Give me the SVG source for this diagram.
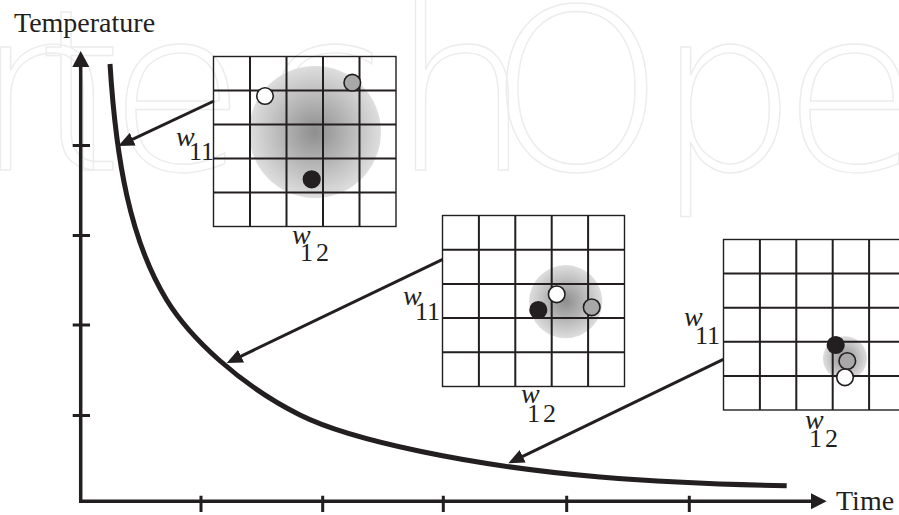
<svg xmlns="http://www.w3.org/2000/svg" width="899" height="515" viewBox="0 0 899 515">
<defs>
<style>
.wm{font-family:"DejaVu Sans",sans-serif;font-weight:200;font-size:225px;fill:none;stroke:#ececec;stroke-width:1.4}
.lbl{font-family:"Liberation Serif","Times New Roman",serif;fill:#231f20}
.w{font-style:italic;font-size:28px}
.sub{font-size:26px}
.ax{font-size:28px}
.gridO{fill:none;stroke:#231f20;stroke-width:1.4}
.gridI{fill:none;stroke:#231f20;stroke-width:2}
.axis{stroke:#231f20;stroke-width:3.5;fill:none}
.tick{stroke:#231f20;stroke-width:3;fill:none}
.conn{stroke:#231f20;stroke-width:3;fill:none;marker-end:url(#ah)}
.dot{stroke:#231f20;stroke-width:1.6}
.blk{fill:#231f20}
.wht{fill:#ffffff}
.gry{fill:#a8a8a8}
</style>
<radialGradient id="blob" cx="0.5" cy="0.5" r="0.5">
<stop offset="0" stop-color="#8e8e8e"/>
<stop offset="1" stop-color="#dedede"/>
</radialGradient>
<marker id="ah" viewBox="0 0 16 14" refX="8" refY="7" markerWidth="16" markerHeight="14" markerUnits="userSpaceOnUse" orient="auto">
<path d="M0,0 L16,7 L0,14 z" fill="#231f20"/>
</marker>
</defs>
<rect width="899" height="515" fill="#ffffff"/>
<text class="wm" y="170"><tspan x="-75">I</tspan><tspan x="-25">n</tspan><tspan x="35">t</tspan><tspan x="108">e</tspan><tspan x="262">c</tspan><tspan x="390">h</tspan><tspan x="488">O</tspan><tspan x="655">p</tspan><tspan x="782">e</tspan></text>

<g id="axes">
<path class="axis" d="M80.7,66 V501.3 H812"/>
<polygon points="80.7,51 72.3,67 89.3,67" fill="#231f20"/>
<polygon points="826.7,501.3 811,493.3 811,509.3" fill="#231f20"/>
<path class="tick" d="M72.7,145.5 H90 M72.7,235.5 H90 M72.7,325 H90 M72.7,415.5 H90 M201,495.7 V512 M322.7,495.7 V512 M443.3,495.7 V512 M566.7,495.7 V512 M689.3,495.7 V512"/>
<text class="lbl ax" x="14" y="31.7">Temperature</text>
<text class="lbl ax" x="836" y="510">Time</text>
</g>

<g id="curve">
<path d="M110,64 C116,160 130,240 166.7,300 C190,338 240,385 300,415 C350,440 470,466 600,477 C660,482 720,484.5 786.7,485.7" fill="none" stroke="#231f20" stroke-width="5"/>
</g>

<g id="grid1">
<circle cx="315" cy="132" r="66" fill="url(#blob)"/>
<path class="gridI" d="M250,56.5 V226.5 M286.5,56.5 V226.5 M323,56.5 V226.5 M359.5,56.5 V226.5 M213.5,90.5 H396 M213.5,124.5 H396 M213.5,158.5 H396 M213.5,192.5 H396"/>
<rect class="gridO" x="213.5" y="56.5" width="182.5" height="170"/>
<circle class="dot wht" cx="265" cy="96" r="8.3"/>
<circle class="dot gry" cx="352.3" cy="82.7" r="8.3"/>
<circle class="dot blk" cx="311.7" cy="179.3" r="8.3"/>
<text class="lbl w" x="176" y="146">w</text>
<text class="lbl sub" x="189" y="160">11</text>
<text class="lbl w" x="292" y="243.5">w</text>
<text class="lbl sub" x="300" y="261">1<tspan dx="3">2</tspan></text>
</g>

<g id="grid2">
<circle cx="565.7" cy="301.7" r="36.6" fill="url(#blob)"/>
<path class="gridI" d="M478.9,215.5 V386.5 M515.3,215.5 V386.5 M551.7,215.5 V386.5 M588.1,215.5 V386.5 M442.5,249.7 H624.5 M442.5,283.9 H624.5 M442.5,318.1 H624.5 M442.5,352.3 H624.5"/>
<rect class="gridO" x="442.5" y="215.5" width="182" height="171"/>
<circle class="dot blk" cx="538.3" cy="310" r="8.3"/>
<circle class="dot wht" cx="556.7" cy="294.3" r="8.3"/>
<circle class="dot gry" cx="591.7" cy="307.3" r="8.3"/>
<text class="lbl w" x="403" y="305">w</text>
<text class="lbl sub" x="415" y="319.5">11</text>
<text class="lbl w" x="521" y="403">w</text>
<text class="lbl sub" x="527" y="421.7">1<tspan dx="3">2</tspan></text>
</g>

<g id="grid3">
<circle cx="845" cy="358.3" r="22" fill="url(#blob)"/>
<path class="gridI" d="M759.9,239.5 V410 M796.3,239.5 V410 M832.7,239.5 V410 M869.1,239.5 V410 M723.5,273.6 H905.5 M723.5,307.7 H905.5 M723.5,341.8 H905.5 M723.5,375.9 H905.5"/>
<rect class="gridO" x="723.5" y="239.5" width="182" height="170.5"/>
<circle class="dot blk" cx="835.7" cy="345" r="8.3"/>
<circle class="dot gry" cx="847.3" cy="361" r="8.3"/>
<circle class="dot wht" cx="845" cy="377.3" r="8.3"/>
<text class="lbl w" x="684" y="326">w</text>
<text class="lbl sub" x="695" y="344">11</text>
<text class="lbl w" x="805" y="429.3">w</text>
<text class="lbl sub" x="809" y="446.7">1<tspan dx="3">2</tspan></text>
</g>

<g id="connectors">
<line class="conn" x1="214" y1="101" x2="125.5" y2="142.6"/>
<line class="conn" x1="442.7" y1="259.3" x2="233.9" y2="359.6"/>
<line class="conn" x1="723.3" y1="359.3" x2="515.5" y2="459.8"/>
</g>
</svg>
